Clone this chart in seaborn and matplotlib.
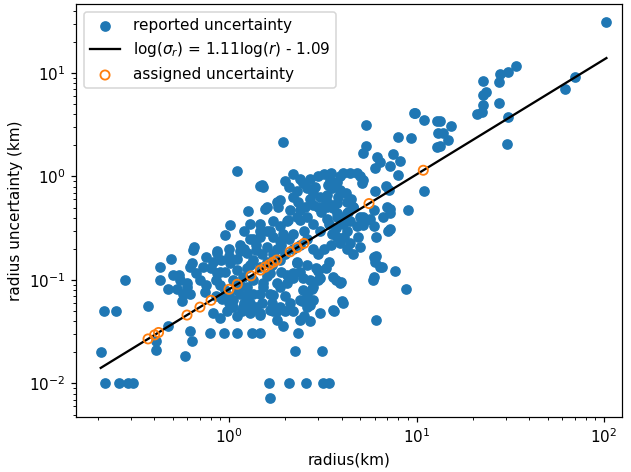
import numpy as np
import matplotlib
matplotlib.use("Agg")
import matplotlib.pyplot as plt
import seaborn as sns

# reported uncertainty points (radius km, uncertainty km)
radius = [
    0.28, 0.215, 0.25, 0.207, 0.218, 0.259, 0.29, 0.308, 0.37, 0.43, 0.43, 0.49, 0.47, 0.50, 0.54, 0.526,
    0.475, 0.41, 0.41, 0.58, 0.56, 0.595, 0.62, 0.632, 0.643, 0.754, 0.70, 0.745, 0.86, 0.62, 0.632, 0.79,
    0.94, 1.10, 1.32, 1.46, 1.17, 1.29, 0.895, 0.82,
    6.08, 6.0, 6.53, 7.67, 5.89, 8.8, 6.06, 3.72, 3.95, 3.99, 3.63, 3.0, 3.0, 2.76, 2.49, 2.6, 2.7, 2.44,
    2.39, 2.33, 2.25, 3.14, 1.63, 2.10, 2.57, 3.18, 3.41, 1.65, 1.72, 1.80, 1.99, 1.80, 1.93, 1.46, 1.65,
    1.72, 1.52, 1.80, 2.03, 2.20, 2.49, 2.70, 3.06, 3.0,
    1.93, 9.7, 5.37, 12.9, 8.0, 9.3, 13.1, 12.9, 5.37, 5.2, 6.13, 6.4, 7.5, 8.2, 7.2, 6.0, 8.0, 10.9, 9.0,
    7.0, 7.2, 6.0, 6.9, 7.1, 7.2, 6.1, 5.66, 5.0, 5.2, 4.8, 4.9, 4.4, 3.9, 4.1, 4.07, 4.4, 4.8, 5.0, 5.2,
    5.1, 3.9, 3.76, 3.46, 3.39, 3.53, 3.9, 3.83, 3.32, 3.39, 2.87, 2.81, 2.6, 2.49, 1.87, 1.83, 2.2, 2.34,
    2.54, 2.81, 2.99, 3.25, 1.56, 1.52, 1.72, 2.03, 2.39, 2.6, 2.81, 3.06, 3.32, 3.76, 4.07, 4.24, 4.4,
    3.53, 3.76, 1.59, 1.72, 1.95, 2.2, 1.46, 1.46,
    1.10, 1.46, 1.27, 1.01, 0.95, 0.65, 0.86,
    22.7, 23.5, 22.5, 22.3, 20.9, 27.6, 30.9, 30.3, 62.0, 13.3, 15.3, 13.9, 14.8, 13.3, 103.0, 69.8,
    34.0, 30.9, 27.9, 27.6, 22.7, 9.8, 11.0,
    4.6, 3.75, 4.24, 5.9, 5.2,
    1.50, 0.86, 0.825, 0.91, 0.62, 0.67, 0.73, 0.55, 0.60, 0.57, 1.01, 1.10, 1.05, 1.19, 1.24, 1.35,
    1.46, 1.40, 1.59, 1.72, 1.87, 1.46, 1.65, 1.87, 1.87, 2.07, 2.3, 2.11, 2.39, 1.59, 1.8,
    3.06, 3.32, 3.75, 4.24, 4.6, 5.4, 5.9, 6.6, 7.2, 7.07, 5.0, 4.24, 4.6, 5.9, 6.38, 5.9,
    3.6, 3.9, 4.07, 3.6, 2.81, 2.6, 2.81, 2.6, 3.06, 2.3, 2.2, 2.03, 1.87, 1.65, 1.52, 1.46, 1.35, 1.24,
    1.14, 1.05, 1.19, 1.29, 1.46, 1.65, 1.87, 2.11, 2.39,
    1.2, 1.3, 1.4, 1.5, 1.6, 1.7, 1.8, 1.9, 2.0, 2.1, 2.2, 2.4, 2.5, 2.6, 2.8, 3.0, 3.2, 3.4, 3.5, 2.3,
    2.6, 2.9, 3.3, 1.35, 1.25, 1.6, 1.9, 2.4, 1.1, 1.0, 0.95, 0.9, 0.85, 1.0, 1.1, 1.5, 1.7, 2.0, 2.2,
    2.5, 2.7, 3.4, 3.7, 4.0, 4.3, 4.5, 4.2, 3.6, 3.1, 2.7, 2.3, 2.1, 2.0, 2.4, 2.7, 3.0, 3.2, 3.5, 2.2,
    1.2, 1.3, 1.35, 1.15, 0.95, 1.0, 1.05, 1.1, 1.2, 1.25, 1.3, 1.4, 0.92, 0.98, 1.15, 1.0, 1.15, 1.3,
    0.8, 0.85, 0.75, 0.9,
]
uncertainty = [
    0.10, 0.05, 0.05, 0.02, 0.01, 0.01, 0.01, 0.01, 0.056, 0.135, 0.10, 0.16, 0.082, 0.113, 0.113, 0.082,
    0.036, 0.026, 0.021, 0.0185, 0.062, 0.093, 0.074, 0.145, 0.195, 0.168, 0.10, 0.077, 0.116, 0.032, 0.026, 0.031,
    0.031, 0.031, 0.031, 0.031, 0.05, 0.05, 0.043, 0.048,
    0.17, 0.15, 0.134, 0.123, 0.10, 0.082, 0.041, 0.10, 0.096, 0.062, 0.05, 0.123, 0.10, 0.082, 0.08, 0.064, 0.057, 0.062,
    0.041, 0.031, 0.0205, 0.0205, 0.01, 0.01, 0.01, 0.01, 0.01, 0.0072, 0.05, 0.05, 0.05, 0.041, 0.036, 0.046, 0.074,
    0.071, 0.086, 0.093, 0.112, 0.104, 0.104, 0.10, 0.104, 0.125,
    2.14, 4.08, 3.15, 3.46, 2.42, 2.34, 2.62, 1.94, 1.97, 1.70, 1.55, 1.39, 1.65, 1.42, 1.26, 1.2, 1.03, 0.72, 0.47,
    0.51, 0.49, 0.73, 0.81, 0.74, 0.31, 0.26, 0.39, 0.41, 0.34, 0.33, 0.26, 0.23, 0.23, 0.26, 1.07, 1.07, 1.07, 1.0, 0.92,
    0.86, 1.0, 0.89, 0.92, 0.83, 0.77, 0.74, 0.64, 0.66, 0.55, 0.8, 0.69, 0.77, 0.86, 0.59, 0.51, 0.64, 0.57,
    0.51, 0.53, 0.51, 0.53, 0.49, 0.80, 0.37, 0.37, 0.38, 0.41, 0.35, 0.30, 0.39, 0.41, 0.35, 0.30, 0.37,
    0.28, 0.26, 0.30, 0.26, 0.28, 0.28, 0.35, 0.26,
    1.13, 0.81, 0.46, 0.34, 0.27, 0.21, 0.19,
    6.13, 6.6, 4.9, 4.2, 4.0, 5.1, 3.78, 2.06, 7.0, 3.46, 3.07, 2.62, 2.25, 1.97, 31.0, 9.2,
    11.7, 10.3, 9.8, 8.2, 8.4, 4.1, 3.5,
    0.51, 0.44, 0.44, 0.475, 0.41,
    0.83, 0.181, 0.15, 0.157, 0.134, 0.116, 0.134, 0.10, 0.086, 0.074, 0.145, 0.125, 0.10, 0.108, 0.181, 0.157,
    0.134, 0.195, 0.21, 0.18, 0.157, 0.30, 0.30, 0.33, 0.24, 0.38, 0.41, 0.47, 0.47, 0.51, 0.57,
    0.64, 0.51, 0.55, 0.57, 0.51, 0.38, 0.33, 0.41, 0.44, 0.30, 0.21, 0.20, 0.18, 0.168, 0.134, 0.108,
    0.108, 0.093, 0.06, 0.051, 0.086, 0.074, 0.064, 0.055, 0.048, 0.145, 0.116, 0.093, 0.086, 0.116, 0.093, 0.074, 0.074, 0.086,
    0.074, 0.064, 0.055, 0.048, 0.048, 0.051, 0.055, 0.06, 0.064,
    0.2, 0.25, 0.22, 0.18, 0.15, 0.14, 0.2, 0.22, 0.18, 0.25, 0.2, 0.22, 0.3, 0.25, 0.2, 0.18, 0.2, 0.15, 0.22, 0.15,
    0.14, 0.13, 0.13, 0.1, 0.13, 0.11, 0.12, 0.12, 0.16, 0.2, 0.12, 0.09, 0.07, 0.06, 0.08, 0.06, 0.06, 0.07, 0.05,
    0.045, 0.04, 0.35, 0.32, 0.4, 0.45, 0.6, 0.7, 0.5, 0.45, 0.6, 0.72, 0.8, 0.9, 0.95, 0.95, 1.0, 1.05, 1.08, 1.05,
    0.3, 0.35, 0.25, 0.22, 0.08, 0.07, 0.055, 0.045, 0.06, 0.07, 0.06, 0.055, 0.065, 0.05, 0.09, 0.17, 0.19, 0.14,
    0.13, 0.1, 0.09, 0.12,
]

# assigned uncertainty radii (placed on the fit line)
assigned_radius = [0.370, 0.401, 0.421, 0.597, 0.700, 0.802, 1.00, 1.107, 1.31, 1.47, 1.556, 1.64,
                   1.72, 1.80, 2.12, 2.31, 2.51, 5.58, 10.87]

# fit: log(sigma) = slope*log(r) + intercept
slope = 1.11
intercept = -1.09

radius = np.array(radius)
uncertainty = np.array(uncertainty)
assigned_radius = np.array(assigned_radius)
assigned_sigma = 10 ** (slope * np.log10(assigned_radius) + intercept)
line_r = np.array([radius.min(), radius.max()])
line_s = 10 ** (slope * np.log10(line_r) + intercept)

DPI = 110
fig = plt.figure(figsize=(631 / DPI, 472 / DPI), dpi=DPI)
ax = fig.add_axes([76 / 631, 1 - 417 / 472, (622 - 76) / 631, (417 - 4) / 472])

sns.scatterplot(x=radius, y=uncertainty, ax=ax, color="#1f77b4", s=36,
                edgecolor="#1f77b4", linewidth=1.0, label="reported uncertainty", zorder=2)
sns.lineplot(x=line_r, y=line_s, ax=ax, color="black", linewidth=1.5,
             label=r"log($\sigma_r$) = 1.11log($r$) - 1.09", zorder=3)
sns.scatterplot(x=assigned_radius, y=assigned_sigma, ax=ax, s=36, facecolor="none",
                edgecolor="#ff7f0e", linewidth=1.2, label="assigned uncertainty", zorder=4)

ax.set_xscale("log")
ax.set_yscale("log")
ax.set_xlim(10 ** (-(229 - 76) / 187.5), 10 ** ((622 - 229) / 187.5))
ax.set_ylim(10 ** (-(417 - 176.5) / 103.5), 10 ** ((176.5 - 4) / 103.5))
ax.set_xlabel("radius(km)")
ax.set_ylabel("radius uncertainty (km)")
ax.legend(loc="upper left")

fig.savefig("out.png", dpi=DPI)
